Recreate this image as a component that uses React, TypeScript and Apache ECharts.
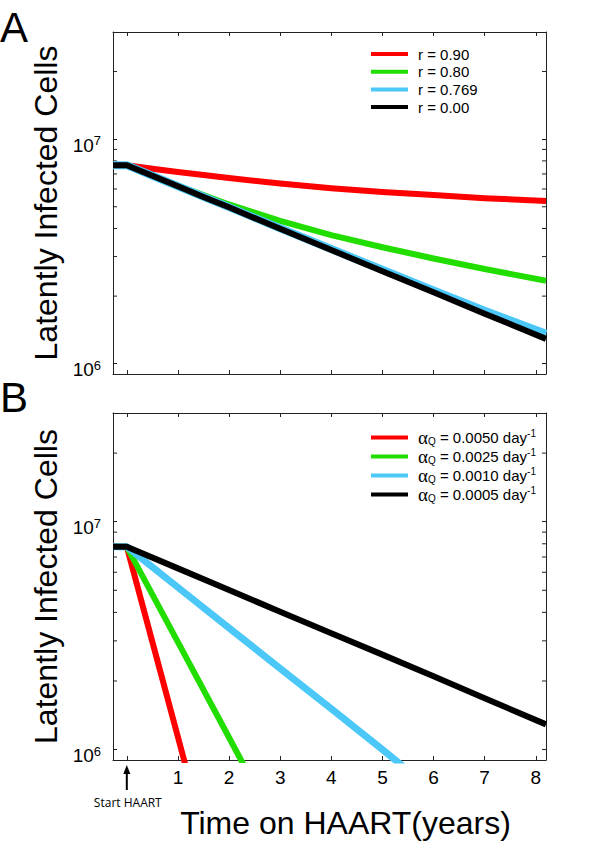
import React, { useEffect, useRef } from 'react';
import * as echarts from 'echarts';

// ---- axis ranges / ticks ----
const X_MIN = -0.27;
const X_MAX = 8.2;
const Y_MIN = 9e5;
const Y_MAX = 3e7;
const minorTickValues = [2e6, 3e6, 4e6, 5e6, 6e6, 7e6, 8e6, 9e6, 2e7];

// ---- Panel A data (time in years, latently infected cells) ----
const timesA = [-0.27, 0, 0.5, 1, 1.5, 2, 3, 4, 5, 6, 7, 8.2];
const redA = [7.66e6, 7.66e6, 7.38e6, 7.14e6, 6.92e6, 6.71e6, 6.35e6, 6.05e6, 5.82e6, 5.64e6, 5.46e6, 5.3e6];
const greenA = [7.66e6, 7.66e6, 6.87e6, 6.19e6, 5.64e6, 5.12e6, 4.33e6, 3.74e6, 3.3e6, 2.94e6, 2.64e6, 2.34e6];
const cyanA = [7.66e6, 7.66e6, 6.87e6, 6.17e6, 5.54e6, 4.98e6, 4.01e6, 3.24e6, 2.62e6, 2.12e6, 1.72e6, 1.36e6];
const blackA = [7.66e6, 7.66e6, 6.87e6, 6.17e6, 5.53e6, 4.97e6, 3.99e6, 3.21e6, 2.58e6, 2.08e6, 1.67e6, 1.29e6];
const namesA = ['r = 0.90', 'r = 0.80', 'r = 0.769', 'r = 0.00'];

// ---- Panel B data ----
const redBTimes = [-0.27, 0, 0.5, 1, 1.2];
const redB = [7.76e6, 7.76e6, 2.97e6, 1.135e6, 7.7e5];
const greenBTimes = [-0.27, 0, 1, 2, 2.4];
const greenB = [7.76e6, 7.76e6, 2.96e6, 1.13e6, 7.66e5];
const cyanBTimes = [-0.27, 0, 1, 2, 3, 4, 5, 5.5];
const cyanB = [7.76e6, 7.76e6, 5.15e6, 3.42e6, 2.27e6, 1.51e6, 1.0e6, 8.1e5];
const blackBTimes = [-0.27, 0, 1, 2, 3, 4, 5, 6, 7, 8.2];
const blackB = [7.76e6, 7.76e6, 6.24e6, 5.01e6, 4.03e6, 3.24e6, 2.61e6, 2.1e6, 1.68e6, 1.29e6];
const alphaValues = ['0.0050', '0.0025', '0.0010', '0.0005'];
const namesB = alphaValues.map((a) => `αQ = ${a} day-1`);

const COLORS = ['#ff0000', '#22dd00', '#4cc8f8', '#000000'];
const WIDTHS_A = [6, 6, 8, 6];
const WIDTHS_B = [6, 6, 7, 6];
const FONT = '"Liberation Sans", Arial, Helvetica, sans-serif';
const AXIS_COLOR = '#222';

const zip = (xs: number[], ys: number[]) => xs.map((x, i) => [x, ys[i]]);

function xAxisDef(gridIndex: number, position: 'top' | 'bottom', withLabels: boolean, name?: string) {
  return {
    type: 'value',
    gridIndex,
    position,
    min: X_MIN,
    max: X_MAX,
    minInterval: 1,
    maxInterval: 1,
    splitNumber: 8,
    splitLine: { show: false },
    axisLine: { show: true, onZero: false, lineStyle: { color: AXIS_COLOR, width: 1 } },
    axisTick: { show: true, inside: true, length: 4, lineStyle: { color: AXIS_COLOR, width: 1 } },
    axisLabel: {
      show: withLabels,
      margin: 8,
      color: '#000',
      fontFamily: FONT,
      fontSize: 19,
      showMinLabel: true,
      showMaxLabel: true,
      formatter: (v: number) => {
        const r = Math.round(v);
        return Math.abs(v - r) < 1e-6 && r >= 1 ? String(r) : '';
      },
    },
    name: name || '',
    nameLocation: 'middle',
    nameGap: 47,
    nameTextStyle: { fontFamily: FONT, fontSize: 32, color: '#000', padding: [0, 0, 0, 32] },
  };
}

function yAxisDef(gridIndex: number, position: 'left' | 'right', withLabels: boolean) {
  return {
    type: 'log',
    logBase: 10,
    gridIndex,
    position,
    min: Y_MIN,
    max: Y_MAX,
    splitLine: { show: false },
    axisLine: { show: true, onZero: false, lineStyle: { color: AXIS_COLOR, width: 1 } },
    axisTick: { show: true, inside: true, length: 4, lineStyle: { color: AXIS_COLOR, width: 1 } },
    axisLabel: {
      show: withLabels,
      margin: 12,
      color: '#000',
      padding: [12, 0, 0, 0],
      formatter: (v: number) => {
        const e = Math.log10(v);
        const r = Math.round(e);
        return Math.abs(e - r) < 1e-6 ? `{b|10}{s|${r}}` : '';
      },
      rich: {
        b: { fontFamily: FONT, fontSize: 19, lineHeight: 22, color: '#000' },
        s: { fontFamily: FONT, fontSize: 13, lineHeight: 13, verticalAlign: 'top', color: '#000' },
      },
    },
    name: withLabels ? 'Latently Infected Cells' : '',
    nameLocation: 'middle',
    nameGap: 45,
    nameTextStyle: { fontFamily: FONT, fontSize: 32, color: '#000' },
  };
}

function lineSeries(name: string, data: number[][], idx: number, axisIdx: number, width: number) {
  return {
    type: 'line',
    name,
    xAxisIndex: axisIdx,
    yAxisIndex: axisIdx,
    data,
    showSymbol: false,
    symbol: 'none',
    smooth: false,
    clip: true,
    color: COLORS[idx],
    lineStyle: { color: COLORS[idx], width, cap: 'butt', join: 'round' },
    emphasis: { disabled: true },
    silent: true,
  };
}

function minorTickSeries(axisIdx: number) {
  return {
    type: 'custom',
    name: 'minor' + axisIdx,
    xAxisIndex: axisIdx,
    yAxisIndex: axisIdx,
    silent: true,
    data: minorTickValues.map((v) => [X_MIN, v]),
    encode: { x: 0, y: 1 },
    renderItem: (_p: any, api: any) => {
      const v = api.value(1);
      const l = api.coord([X_MIN, v]);
      const r = api.coord([X_MAX, v]);
      const st = { stroke: AXIS_COLOR, lineWidth: 1 };
      return {
        type: 'group',
        children: [
          { type: 'line', shape: { x1: l[0], y1: l[1], x2: l[0] + 4, y2: l[1] }, style: st },
          { type: 'line', shape: { x1: r[0] - 4, y1: r[1], x2: r[0], y2: r[1] }, style: st },
        ],
      };
    },
  };
}

const legendTextA = { fontFamily: FONT, fontSize: 15, lineHeight: 15, color: '#000', padding: [0, 0, 0, 5] };

export default function App() {
  const ref = useRef<HTMLDivElement>(null);
  useEffect(() => {
    document.body.style.margin = '0';
    if (!ref.current) return;
    const chart = echarts.init(ref.current, undefined, { renderer: 'svg' });
    const option: any = {
      animation: false,
      backgroundColor: '#fff',
      grid: [
        { left: 113, right: 54, top: 32, height: 342 },
        { left: 113, right: 54, top: 413, height: 347 },
      ],
      xAxis: [
        xAxisDef(0, 'bottom', false),
        xAxisDef(1, 'bottom', true, 'Time on HAART(years)'),
        xAxisDef(0, 'top', false),
        xAxisDef(1, 'top', false),
      ],
      yAxis: [yAxisDef(0, 'left', true), yAxisDef(1, 'left', true), yAxisDef(0, 'right', false), yAxisDef(1, 'right', false)],
      legend: [
        {
          orient: 'vertical',
          left: 371,
          top: 46.5,
          padding: 0,
          itemWidth: 37,
          itemHeight: 4,
          itemGap: 2.7,
          icon: 'rect',
          selectedMode: false,
          data: namesA,
          textStyle: legendTextA,
        },
        {
          orient: 'vertical',
          left: 371,
          top: 428,
          padding: 0,
          itemWidth: 37,
          itemHeight: 4,
          itemGap: 0,
          icon: 'rect',
          selectedMode: false,
          data: namesB,
          formatter: (name: string) => {
            const m = name.match(/= (.*) day/);
            return `{g|α}{sub|Q}{t| = ${m ? m[1] : ''} day}{sup|-1}`;
          },
          textStyle: {
            fontFamily: FONT,
            fontSize: 15,
            color: '#000',
            padding: [0, 0, 0, 5],
            rich: {
              g: { fontFamily: '"Liberation Serif", "Times New Roman", serif', fontSize: 19, lineHeight: 18, color: '#000' },
              sub: { fontFamily: FONT, fontSize: 10, lineHeight: 10, verticalAlign: 'bottom', color: '#000' },
              t: { fontFamily: FONT, fontSize: 15, lineHeight: 18, color: '#000' },
              sup: { fontFamily: FONT, fontSize: 10, lineHeight: 10, verticalAlign: 'top', color: '#000' },
            },
          },
        },
      ],
      series: [
        lineSeries(namesA[0], zip(timesA, redA), 0, 0, WIDTHS_A[0]),
        lineSeries(namesA[1], zip(timesA, greenA), 1, 0, WIDTHS_A[1]),
        lineSeries(namesA[2], zip(timesA, cyanA), 2, 0, WIDTHS_A[2]),
        lineSeries(namesA[3], zip(timesA, blackA), 3, 0, WIDTHS_A[3]),
        lineSeries(namesB[0], zip(redBTimes, redB), 0, 1, WIDTHS_B[0]),
        lineSeries(namesB[1], zip(greenBTimes, greenB), 1, 1, WIDTHS_B[1]),
        lineSeries(namesB[2], zip(cyanBTimes, cyanB), 2, 1, WIDTHS_B[2]),
        lineSeries(namesB[3], zip(blackBTimes, blackB), 3, 1, WIDTHS_B[3]),
        minorTickSeries(0),
        minorTickSeries(1),
      ],
      graphic: [
        {
          id: 'letterA',
          type: 'text',
          left: 0,
          top: 6,
          style: { text: 'A', fontFamily: FONT, fontSize: 42, fill: '#000' },
        },
        {
          id: 'letterB',
          type: 'text',
          left: 0,
          top: 376,
          style: { text: 'B', fontFamily: FONT, fontSize: 42, fill: '#000' },
        },
      ],
    };
    chart.setOption(option);
    const p = chart.convertToPixel({ xAxisIndex: 1, yAxisIndex: 1 }, [0, Y_MIN]) as number[];
    if (p) {
      const x = p[0];
      const y = p[1];
      chart.setOption({
        graphic: [
          {
            id: 'arrowShaft',
            type: 'line',
            shape: { x1: x, y1: y + 10, x2: x, y2: y + 30 },
            style: { stroke: '#000', lineWidth: 2 },
          },
          {
            id: 'arrowHead',
            type: 'polygon',
            shape: { points: [[x, y + 5], [x - 3.5, y + 14], [x + 3.5, y + 14]] },
            style: { fill: '#000' },
          },
          {
            id: 'startText',
            type: 'text',
            x: x + 1,
            y: y + 42,
            style: {
              text: 'Start HAART',
              fontFamily: '"Open Sans", "Liberation Sans", sans-serif',
              fontSize: 12,
              fill: '#000',
              align: 'center',
              verticalAlign: 'middle',
            },
          },
        ],
      });
    }
    return () => chart.dispose();
  }, []);
  return <div ref={ref} style={{ width: 600, height: 848 }} />;
}
